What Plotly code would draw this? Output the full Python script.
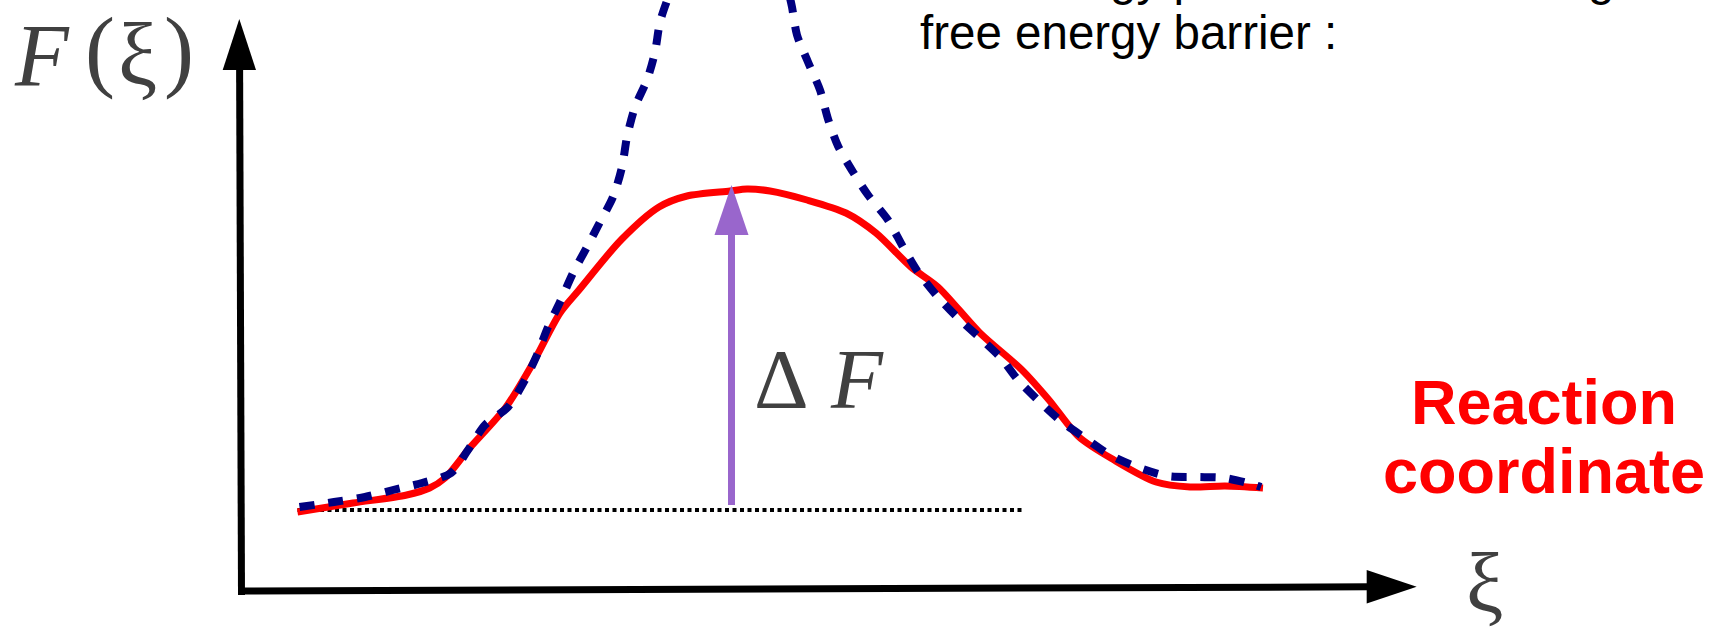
import plotly.graph_objects as go

W, H = 1711, 631

# Reweighted free-energy profile F(xi) (solid red), arbitrary units
xi_reweighted = [0.575, 1.13, 1.667, 1.896, 2.05, 2.28, 2.66, 2.93, 3.20, 3.39, 3.81,
                 4.19, 4.47, 4.90, 5.07, 5.30, 5.67, 6.06, 6.36, 6.71, 6.98, 7.40,
                 7.82, 8.09, 8.39, 8.74, 9.16, 9.50, 9.85, 10.23]
F_reweighted = [-0.02, 0.07, 0.15, 0.22, 0.32, 0.60, 1.03, 1.47, 1.97, 2.20, 2.70,
                3.03, 3.14, 3.19, 3.21, 3.19, 3.10, 2.97, 2.77, 2.43, 2.23, 1.77,
                1.40, 1.10, 0.73, 0.50, 0.28, 0.23, 0.24, 0.22]

# Unbiased energy profile (dashed navy); its top runs off the chart
xi_unbiased_left = [0.595, 0.94, 1.25, 1.53, 1.82, 2.11, 2.28, 2.45, 2.68, 2.85, 2.97,
                    3.08, 3.20, 3.33, 3.47, 3.60, 3.73, 3.82, 3.87, 3.95, 4.07, 4.15,
                    4.20, 4.28]
F_unbiased_left = [0.03, 0.08, 0.13, 0.20, 0.27, 0.37, 0.60, 0.85, 1.03, 1.30, 1.55,
                   1.83, 2.08, 2.37, 2.63, 2.88, 3.13, 3.43, 3.73, 4.03, 4.30, 4.58,
                   4.88, 5.12]
xi_unbiased_right = [5.50, 5.52, 5.57, 5.68, 5.80, 5.88, 5.98, 6.13, 6.28, 6.48, 6.63,
                     6.78, 6.98, 7.17, 7.40, 7.61, 7.78, 8.01, 8.22, 8.45, 8.70, 8.97,
                     9.27, 9.56, 9.85, 10.15, 10.21]
F_unbiased_right = [5.12, 5.03, 4.75, 4.48, 4.20, 3.91, 3.64, 3.38, 3.15, 2.90, 2.63,
                    2.38, 2.13, 1.93, 1.72, 1.52, 1.30, 1.07, 0.88, 0.72, 0.55, 0.43,
                    0.34, 0.33, 0.32, 0.25, 0.23]

# Reactant-basin reference level and the extent of its dotted guide
F_basin = 0.0
xi_guide = [0.575, 7.825]
# Position along xi where the barrier height is marked
xi_barrier = 4.915

# Linear map between page pixels and (xi, F): 100 px per unit
X0, Y0, S = 240.0, 510.0, 100.0


def dx(px):
    return (px - X0) / S


def dy(py):
    return (Y0 - py) / S


RED = "#ff0000"
NAVY = "#000080"
PURPLE = "#9966cc"
INK = "#404040"
SERIF = "Liberation Serif"
SANS = "Liberation Sans"

fig = go.Figure()

# dotted guide at the basin level
fig.add_trace(go.Scatter(
    x=xi_guide, y=[F_basin, F_basin], mode="lines",
    line=dict(color="black", width=4, dash="4px,3.5px"), hoverinfo="skip"))

# reweighted profile
fig.add_trace(go.Scatter(
    x=xi_reweighted, y=F_reweighted, mode="lines",
    line=dict(color=RED, width=7, shape="spline", smoothing=0.8), hoverinfo="skip"))

# unbiased profile, two visible branches
fig.add_trace(go.Scatter(
    x=xi_unbiased_left + [None] + xi_unbiased_right,
    y=F_unbiased_left + [None] + F_unbiased_right, mode="lines", connectgaps=False,
    line=dict(color=NAVY, width=8, dash="15px,14px", shape="spline", smoothing=0.8),
    hoverinfo="skip"))

shapes = []


def line(x0, y0, x1, y1, color, width):
    shapes.append(dict(type="line", xref="x", yref="y", x0=x0, y0=y0, x1=x1, y1=y1,
                       line=dict(color=color, width=width), layer="above"))


def tri(pts, color):
    p = "M " + " L ".join(f"{a:.4f},{b:.4f}" for a, b in pts) + " Z"
    shapes.append(dict(type="path", xref="x", yref="y", path=p, fillcolor=color,
                       line=dict(width=0), layer="above"))


# F axis with arrowhead
line(dx(241.5), dy(595), dx(239.6), dy(66), "black", 7)
tri([(dx(239.3), dy(19)), (dx(222.7), dy(70)), (dx(256), dy(70))], "black")
# xi axis with arrowhead
line(dx(238), dy(591), dx(1370), dy(586.8), "black", 7)
tri([(dx(1416.7), dy(586.7)), (dx(1366.7), dy(570)), (dx(1366.7), dy(603.5))], "black")

# barrier arrow from the basin level up to the top of the reweighted profile
dF = max(F_reweighted)
tip = dF + 0.04
head_len, head_half = 0.50, 0.17
line(xi_barrier, F_basin + 0.05, xi_barrier, tip - head_len + 0.02, PURPLE, 7)
tri([(xi_barrier, tip), (xi_barrier - head_half, tip - head_len),
     (xi_barrier + head_half, tip - head_len)], PURPLE)

annotations = []


def label(text, x_px, base_px, size, family, color, xanchor="center"):
    k = 0.3375 if "Serif" in family else 0.3465
    annotations.append(dict(
        text=text, xref="paper", yref="paper", x=x_px / W,
        y=1 - (base_px - k * size) / H, xanchor=xanchor, yanchor="middle",
        showarrow=False, borderpad=0,
        font=dict(size=size, family=family, color=color)))


# F(xi) axis title
label("<i>F</i>", 42, 85, 88, SERIF, INK)
label("(", 100, 80.5, 90, SERIF, INK)
label("ξ", 137.5, 85, 88, SERIF, INK)
label(")", 178.5, 80.5, 90, SERIF, INK)
# xi axis title
label("ξ", 1484.5, 612, 84, SERIF, INK)
# barrier label
label("Δ", 781, 408, 85, SERIF, INK)
label("<i>F</i>", 856.5, 408, 85, SERIF, INK)
# reaction coordinate caption
label("<b>Reaction</b>", 1543.5, 424, 63, SANS, RED)
label("<b>coordinate</b>", 1543.5, 493, 63, SANS, RED)
# explanatory text
label("The energy profile is needed to get the", 919, -5.5, 47.5, SANS, "black", "left")
label("free energy barrier :", 919, 48.5, 47.5, SANS, "black", "left")

fig.update_layout(
    width=W, height=H, margin=dict(l=0, r=0, t=0, b=0, pad=0),
    paper_bgcolor="white", plot_bgcolor="white", showlegend=False,
    xaxis=dict(range=[dx(0), dx(W)], visible=False, fixedrange=True),
    yaxis=dict(range=[dy(H), dy(0)], visible=False, fixedrange=True),
    shapes=shapes, annotations=annotations)

fig.write_html("out.html")
